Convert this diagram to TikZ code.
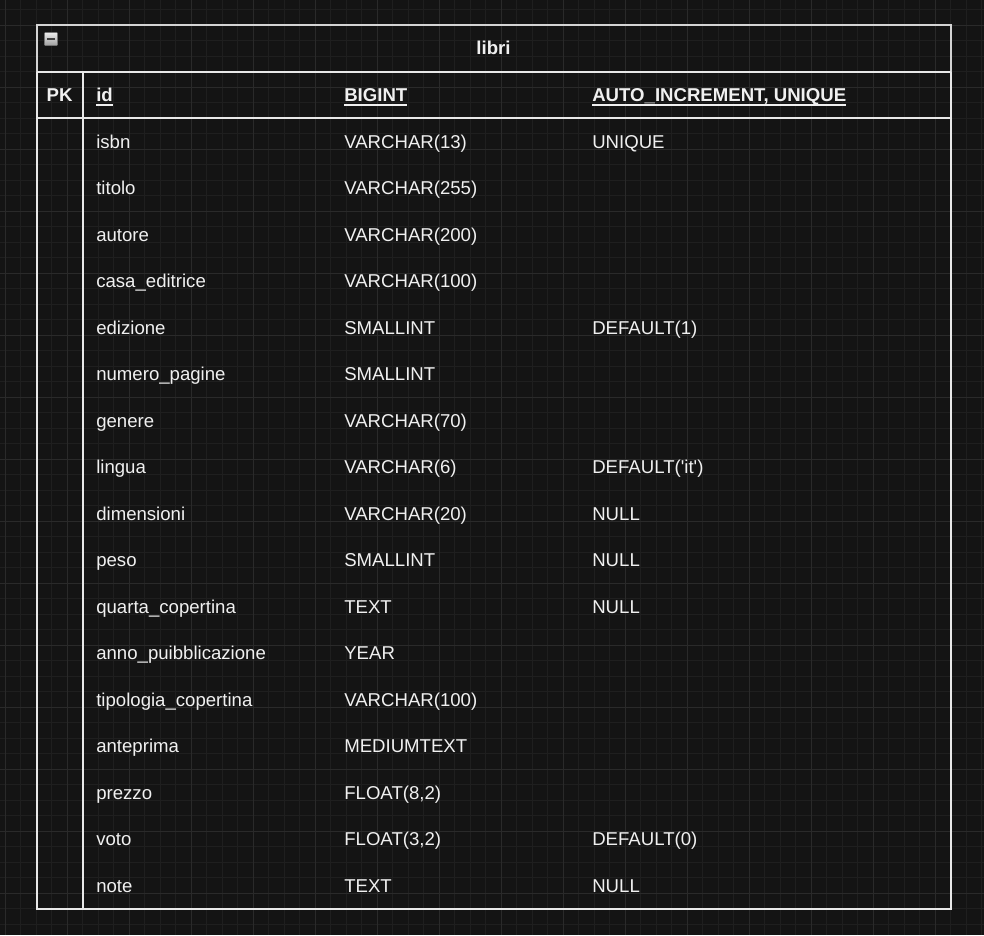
\documentclass[tikz,border=0pt]{standalone}
\usepackage{fontspec}
\setmainfont{Liberation Sans}
\definecolor{bgc}{HTML}{141414}
\definecolor{gridminor}{HTML}{1F1F1F}
\definecolor{gridmajor}{HTML}{2A2A2A}
\definecolor{linec}{HTML}{E8E8E8}
\definecolor{headc}{HTML}{D4D4D4}
\definecolor{textc}{HTML}{F0F0F0}
\newcommand\keyul[1]{\setbox0\hbox{#1}\rlap{\rule[-4pt]{\wd0}{1.7pt}}\box0}
\begin{document}
\begin{tikzpicture}[x=1pt,y=-1pt,semithick,
  txt/.style={text=textc,font=\fontsize{18.6}{22}\selectfont,inner sep=0pt,anchor=base west},
  hd/.style={txt,font=\fontsize{18.6}{22}\selectfont\bfseries},
  rule/.style={draw=linec,line width=2pt}]
\fill[bgc](0,0)rectangle(984,935);
\useasboundingbox(0,0)rectangle(984,935);
% grid
\foreach \k in {0,...,63}\draw[gridminor,line width=0.8pt]({5.3+15.5*\k},0)--++(0,935);
\foreach \k in {0,...,59}\draw[gridminor,line width=0.8pt](0,{9.8+15.5*\k})--++(984,0);
\foreach \k in {0,...,15}\draw[gridmajor,line width=0.9pt]({5.3+62*\k},0)--++(0,935);
\foreach \k in {0,...,14}\draw[gridmajor,line width=0.9pt](0,{25.3+62*\k})--++(984,0);
% table frame
\coordinate(tl)at(36.5,25.3);
\coordinate(tr)at(950.5,25.3);
\coordinate(hl)at(36.5,71.7);
\coordinate(hr)at(950.5,71.7);
\coordinate(pl)at(36.5,117.9);
\coordinate(pr)at(950.5,117.9);
\coordinate(bl)at(36.5,908.6);
\coordinate(br)at(950.5,908.6);
\coordinate(dt)at(82.8,71.7);
\coordinate(db)at(82.8,908.6);
\draw[rule,draw=headc](hl)--(tl)--(tr)--(hr);
\draw[rule](hl)--(bl)--(br)--(hr)(hl)--(hr)(pl)--(pr)(dt)--(db);
% fold icon
\shade[top color=white!85!gray,bottom color=gray!75,draw=gray!90!black,line width=0.6pt,rounded corners=0.8pt]
  (44.5,32.5)rectangle(57.5,45.5);
\draw[black!75,line width=2pt](47,39)--(55,39);
% title and key row
\node[hd,anchor=base](title)at(493.5,54){libri};
\node[hd,anchor=base](pk)at(59.6,101.5){PK};
\node[hd](kid)at(96,101.5){\keyul{id}};
\node[hd](kty)at(344,101.5){\keyul{BIGINT}};
\node[hd](kex)at(592,101.5){\keyul{AUTO\_INCREMENT, UNIQUE}};
% fields
\foreach \nm/\ty [count=\i] in {isbn/VARCHAR(13),titolo/VARCHAR(255),autore/VARCHAR(200),
  casa\_editrice/VARCHAR(100),edizione/SMALLINT,numero\_pagine/SMALLINT,genere/VARCHAR(70),
  lingua/VARCHAR(6),dimensioni/VARCHAR(20),peso/SMALLINT,quarta\_copertina/TEXT,
  anno\_puibblicazione/YEAR,tipologia\_copertina/VARCHAR(100),anteprima/MEDIUMTEXT,
  prezzo/{FLOAT(8,2)},voto/{FLOAT(3,2)},note/TEXT}{
  \node[txt](nm\i)at(96,{101.5+46.5*\i}){\nm};
  \node[txt](ty\i)at(344,{101.5+46.5*\i}){\ty};
}
\foreach \i/\ex in {1/UNIQUE,5/DEFAULT(1),8/DEFAULT(\textquotesingle it\textquotesingle),
  9/NULL,10/NULL,11/NULL,16/DEFAULT(0),17/NULL}
  \node[txt](ex\i)at(592,{101.5+46.5*\i}){\ex};
\end{tikzpicture}
\end{document}
